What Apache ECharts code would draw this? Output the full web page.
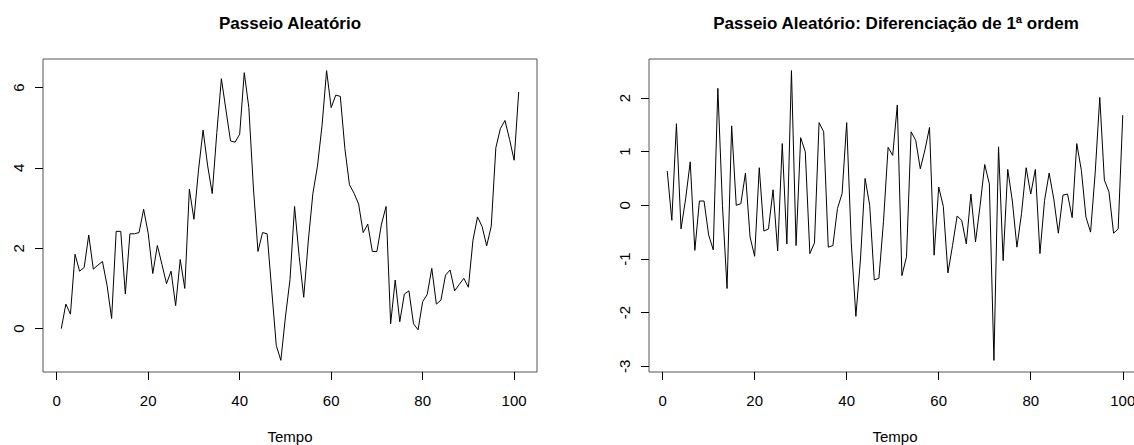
<!DOCTYPE html>
<html>
<head>
<meta charset="utf-8">
<script src="https://cdn.jsdelivr.net/npm/echarts@6/dist/echarts.min.js"></script>
<style>
  html, body { margin: 0; padding: 0; background: #fff; }
  #chart { width: 1134px; height: 445px; }
</style>
</head>
<body>
<div id="chart"></div>
<script>
// Random walk values, Tempo = 1..101
const walk = [
  0, 0.61, 0.36, 1.85, 1.43, 1.52, 2.33, 1.48, 1.58, 1.67,
  1.08, 0.25, 2.42, 2.42, 0.86, 2.36, 2.36, 2.39, 2.97, 2.37,
  1.37, 2.07, 1.6, 1.12, 1.43, 0.57, 1.72, 1.0, 3.47, 2.72,
  3.95, 4.94, 4.05, 3.36, 4.88, 6.22, 5.44, 4.67, 4.64, 4.84,
  6.37, 5.5, 3.5, 1.92, 2.39, 2.36, 0.96, -0.42, -0.79, 0.29,
  1.22, 3.04, 1.8, 0.78, 2.18, 3.36, 4.04, 5.05, 6.42, 5.5,
  5.81, 5.78, 4.48, 3.58, 3.37, 3.1, 2.39, 2.6, 1.92, 1.92,
  2.6, 3.04, 0.12, 1.21, 0.17, 0.86, 0.94, 0.12, -0.03, 0.67,
  0.85, 1.5, 0.61, 0.71, 1.33, 1.46, 0.94, 1.1, 1.25, 1.03,
  2.2, 2.78, 2.54, 2.06, 2.55, 4.5, 4.98, 5.18, 4.71, 4.19,
  5.89
];
// First-order differences, Tempo = 1..100
const diffs = [
  0.64, -0.28, 1.52, -0.44, 0.12, 0.81, -0.84, 0.08, 0.08, -0.55,
  -0.83, 2.18, 0.0, -1.55, 1.48, 0.0, 0.03, 0.6, -0.59, -0.95,
  0.70, -0.48, -0.44, 0.29, -0.85, 1.15, -0.72, 2.51, -0.75, 1.26,
  1.0, -0.9, -0.70, 1.54, 1.37, -0.78, -0.75, -0.06, 0.22, 1.54,
  -0.7, -2.07, -1.0, 0.50, 0.0, -1.39, -1.36, -0.3, 1.08, 0.93,
  1.87, -1.31, -0.96, 1.37, 1.21, 0.68, 1.03, 1.45, -0.93, 0.34,
  -0.02, -1.26, -0.75, -0.2, -0.28, -0.72, 0.21, -0.68, 0.0, 0.76,
  0.40, -2.89, 1.09, -1.03, 0.67, 0.08, -0.78, -0.15, 0.70, 0.21,
  0.67, -0.9, 0.09, 0.60, 0.12, -0.52, 0.19, 0.21, -0.23, 1.15,
  0.65, -0.22, -0.50, 0.6, 2.01, 0.47, 0.25, -0.52, -0.44, 1.68
];
const xTicks = [0, 20, 40, 60, 80, 100];
const walkYTicks = [0, 2, 4, 6];
const diffYTicks = [-3, -2, -1, 0, 1, 2];
const titles = ['Passeio Aleatório', 'Passeio Aleatório: Diferenciação de 1ª ordem'];
const xName = 'Tempo';

const FONT = '"Liberation Sans", Arial, sans-serif';

const walkData = walk.map((v, i) => [i + 1, v]);
const diffData = diffs.map((v, i) => [i + 1, v]);

function xAxis(gridIndex, min, max) {
  return {
    type: 'value', gridIndex, min, max, position: 'bottom',
    name: xName, nameLocation: 'middle', nameGap: 57,
    nameTextStyle: { fontFamily: FONT, fontSize: 15, color: '#000' },
    axisLine: { show: false, onZero: false },
    axisTick: { show: true, length: 8, customValues: xTicks, lineStyle: { color: '#000', width: 1 } },
    axisLabel: { customValues: xTicks, margin: 21, fontFamily: FONT, fontSize: 15, color: '#000', hideOverlap: false },
    splitLine: { show: false }
  };
}
function yAxis(gridIndex, min, max, ticks) {
  return {
    type: 'value', gridIndex, min, max, position: 'left',
    axisLine: { show: false, onZero: false },
    axisTick: { show: true, length: 8, customValues: ticks, lineStyle: { color: '#000', width: 1 } },
    axisLabel: { customValues: ticks, rotate: 90, margin: 17, fontFamily: FONT, fontSize: 15, color: '#000' },
    splitLine: { show: false }
  };
}

const chart = echarts.init(document.getElementById('chart'), null, { renderer: 'svg' });
chart.setOption({
  animation: false,
  backgroundColor: '#fff',
  grid: [
    { left: 43, top: 59, width: 494, height: 313, show: true, borderColor: '#555', borderWidth: 1, backgroundColor: 'transparent', containLabel: false, outerBoundsMode: 'none' },
    { left: 649, top: 59, width: 492, height: 313, show: true, borderColor: '#555', borderWidth: 1, backgroundColor: 'transparent', containLabel: false, outerBoundsMode: 'none' }
  ],
  xAxis: [ xAxis(0, -3, 105), xAxis(1, -2.96, 103.96) ],
  yAxis: [ yAxis(0, -1.08, 6.71, walkYTicks), yAxis(1, -3.106, 2.726, diffYTicks) ],
  graphic: [
    { type: 'text', x: 290, y: 23, style: { text: titles[0], fontFamily: FONT, fontSize: 17, fontWeight: 'bold', fill: '#000', align: 'center', verticalAlign: 'middle' } },
    { type: 'text', x: 896, y: 23, style: { text: titles[1], fontFamily: FONT, fontSize: 17, fontWeight: 'bold', fill: '#000', align: 'center', verticalAlign: 'middle' } }
  ],
  series: [
    { type: 'line', xAxisIndex: 0, yAxisIndex: 0, data: walkData, showSymbol: false, lineStyle: { color: '#000', width: 1 }, silent: true },
    { type: 'line', xAxisIndex: 1, yAxisIndex: 1, data: diffData, showSymbol: false, lineStyle: { color: '#000', width: 1 }, silent: true }
  ]
});
</script>
</body>
</html>
